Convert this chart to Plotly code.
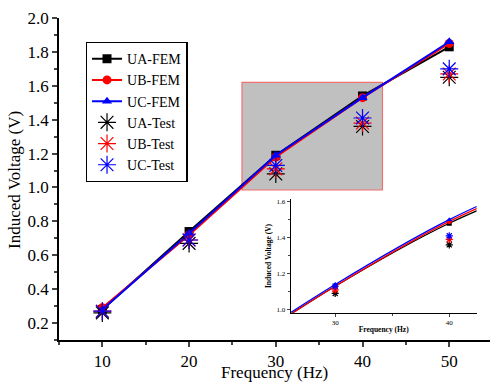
import plotly.graph_objects as go

freq = [10, 20, 30, 40, 50]
ua_fem = [0.28, 0.74, 1.19, 1.54, 1.83]
ub_fem = [0.29, 0.72, 1.18, 1.53, 1.85]
uc_fem = [0.28, 0.73, 1.19, 1.53, 1.86]
ua_test = [0.26, 0.67, 1.08, 1.36, 1.65]
ub_test = [0.27, 0.69, 1.11, 1.38, 1.67]
uc_test = [0.27, 0.69, 1.13, 1.41, 1.70]

# inset (zoomed) values
inset_freq = [20, 30, 40, 50]
inset_ua_fem = [0.72, 1.13, 1.48, 1.74]
inset_ub_fem = [0.72, 1.13, 1.49, 1.76]
inset_uc_fem = [0.73, 1.14, 1.50, 1.78]
inset_test_freq = [30, 40]
inset_ua_test = [1.09, 1.36]
inset_ub_test = [1.11, 1.39]
inset_uc_test = [1.13, 1.41]

names = ["UA", "UB", "UC"]
colors = ["#000000", "#ff0000", "#0000ff"]
symbols = ["square", "circle", "triangle-up"]
fem = [ua_fem, ub_fem, uc_fem]
test = [ua_test, ub_test, uc_test]
ifem = [inset_ua_fem, inset_ub_fem, inset_uc_fem]
itest = [inset_ua_test, inset_ub_test, inset_uc_test]

SERIF = "Liberation Serif, serif"
fig = go.Figure()

for n, c, s, v in zip(names, colors, symbols, fem):
    fig.add_trace(go.Scatter(x=freq, y=v, mode="lines+markers", name=f"{n}-FEM",
                             line=dict(color=c, width=2),
                             marker=dict(symbol=s, size=9, color=c)))
for n, c, v in zip(names, colors, test):
    fig.add_trace(go.Scatter(x=freq, y=v, mode="markers", name=f"{n}-Test",
                             marker=dict(symbol="asterisk-open", size=15, color=c,
                                         line=dict(color=c, width=1.2))))

for n, c, s, v in zip(names, colors, symbols, ifem):
    fig.add_trace(go.Scatter(x=inset_freq, y=v, mode="lines", showlegend=False,
                             line=dict(color=c, width=1.3, shape="spline"),
                             xaxis="x2", yaxis="y2"))
    fig.add_trace(go.Scatter(x=inset_freq[1:3], y=v[1:3], mode="markers", showlegend=False,
                             marker=dict(symbol=s, size=5, color=c),
                             xaxis="x2", yaxis="y2"))
for n, c, v in zip(names, colors, itest):
    fig.add_trace(go.Scatter(x=inset_test_freq, y=v, mode="markers", showlegend=False,
                             marker=dict(symbol="asterisk-open", size=6, color=c,
                                         line=dict(color=c, width=1.2)),
                             xaxis="x2", yaxis="y2"))

fig.add_shape(type="rect", x0=26.1, x1=42.3, y0=0.985, y1=1.62, xref="x", yref="y",
              fillcolor="#c0c0c0", line=dict(color="#f07070", width=1.2), layer="below")

fig.update_layout(
    width=491, height=383,
    margin=dict(l=59, r=1, t=18, b=43, autoexpand=False),
    paper_bgcolor="white", plot_bgcolor="white",
    font=dict(family=SERIF, size=17, color="black"),
    annotations=[
        dict(text="Frequency (Hz)", x=(274 - 59) / 431, xref="paper",
             y=-(383 - 340) / 322, yref="paper", showarrow=False,
             font=dict(size=17, family=SERIF), xanchor="center", yanchor="bottom",
             borderpad=0),
        dict(text="Induced Voltage (V)", x=-(59 - 15) / 431, xref="paper",
             y=(340 - 180) / 322, yref="paper", showarrow=False, textangle=-90,
             font=dict(size=17, family=SERIF), xanchor="center", yanchor="middle"),
    ],
    xaxis=dict(range=[5, 54.7], domain=[0, 1], tickvals=[10, 20, 30, 40, 50],
               showline=True, linecolor="black", linewidth=1.5, ticks="outside",
               ticklen=5, tickwidth=1.5, showgrid=False, zeroline=False, automargin=False,
               tickfont=dict(size=17, family=SERIF),
               minor=dict(tickvals=[5, 15, 25, 35, 45], ticks="outside", ticklen=3, tickwidth=1.5)),
    yaxis=dict(range=[0.1, 2.0], domain=[0, 1], tickvals=[0.2, 0.4, 0.6, 0.8, 1.0, 1.2, 1.4, 1.6, 1.8, 2.0],
               tickformat=".1f", automargin=False,
               tickfont=dict(size=17, family=SERIF),
               showline=True, linecolor="black", linewidth=1.5, ticks="outside",
               ticklen=5, tickwidth=1.5, showgrid=False, zeroline=False,
               minor=dict(tickvals=[0.1, 0.3, 0.5, 0.7, 0.9, 1.1, 1.3, 1.5, 1.7, 1.9],
                          ticks="outside", ticklen=3, tickwidth=1.5)),
    xaxis2=dict(range=[26.1, 42.4], domain=[0.5376, 0.969], anchor="y2",
                tickvals=[30, 40], showline=True, linecolor="black", linewidth=1,
                ticks="outside", ticklen=3, tickwidth=1, showgrid=False, zeroline=False,
                minor=dict(tickvals=[35], ticks="outside", ticklen=2), automargin=False,
                tickfont=dict(size=7, family=SERIF),
                title=dict(text="<b>Frequency (Hz)</b>", standoff=0, font=dict(size=7.5, family=SERIF))),
    yaxis2=dict(range=[0.983, 1.613], domain=[0.0848, 0.437], anchor="x2",
                tickvals=[1.0, 1.2, 1.4, 1.6], tickformat=".1f", automargin=False,
                showline=True, linecolor="black", linewidth=1,
                ticks="outside", ticklen=3, tickwidth=1, showgrid=False, zeroline=False,
                minor=dict(tickvals=[1.1, 1.3, 1.5], ticks="outside", ticklen=2),
                tickfont=dict(size=7, family=SERIF),
                title=dict(text="<b>Induced Voltage (V)</b>", standoff=3, font=dict(size=7.5, family=SERIF))),
    legend=dict(x=0.062, y=0.926, xanchor="left", yanchor="top",
                bordercolor="black", borderwidth=1.3, bgcolor="white",
                font=dict(size=14, family=SERIF), tracegroupgap=0, itemwidth=30),
    showlegend=True,
)

fig.write_html("out.html", config={"displayModeBar": False},
               post_script="document.body.style.margin='0';")
